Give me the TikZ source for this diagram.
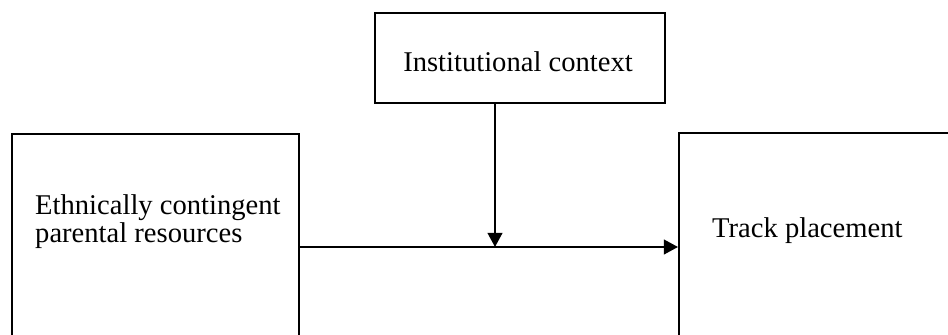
\documentclass[tikz,border=0pt]{standalone}
\usepackage{fontspec}
\setmainfont{Liberation Serif}
\usetikzlibrary{arrows.meta,positioning}
\tikzset{
  factorbox/.style={
    rectangle, draw=black, line width=1.7pt,
    minimum width=#1, inner sep=0pt
  },
  factorbox/.default=8.6cm,
  factortext/.style={
    font=\fontsize{24.4}{21.3}\selectfont, align=left, inner sep=0pt
  },
  patharrow/.style={
    -{Triangle[length=12pt, width=12.5pt]}, line width=1.7pt
  },
}
\begin{document}
\begin{tikzpicture}[x=0.03cm, y=-0.03cm]
  \clip (0,0) rectangle (948,334);
  % Boxes (cut off by the frame at the bottom and right)
  \node[factorbox=8.61cm, minimum height=7cm, anchor=north west] (res) at (11,133) {};
  \node[factorbox=8.7cm, minimum height=2.7cm, anchor=north west] (ctx) at (374,12) {};
  \node[factorbox=9cm, minimum height=7cm, anchor=north west] (track) at (678,132) {};

  % Texts
  \node[factortext, anchor=base] (ctxtext) at (518,71) {Institutional context};
  \node[factortext, anchor=base west] (restext) at (35,242) {Ethnically contingent\\parental resources};
  \node[factortext, anchor=base west] (tracktext) at (712,237) {Track placement};

  % Arrows
  \coordinate (mid) at (495,247);
  \draw[patharrow] (res.east |- mid) -- (track.west |- mid);
  \draw[patharrow] (ctx.south -| mid) -- (mid);
\end{tikzpicture}
\end{document}
